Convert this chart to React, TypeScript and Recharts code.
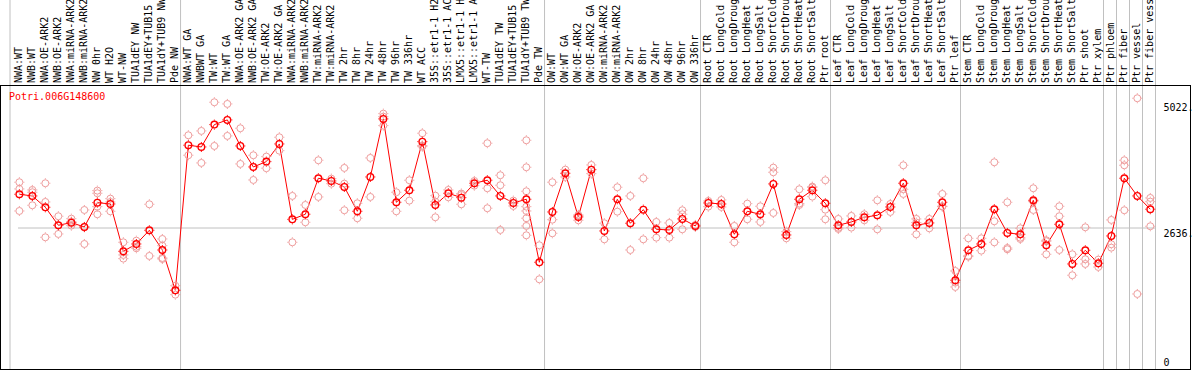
import {
  ComposedChart,
  Line,
  ReferenceLine,
  Scatter,
  XAxis,
  YAxis,
} from "recharts";

const title = "Potri.006G148600";

const categories = [
  "NWA:WT", "NWB:WT", "NWA:OE-ARK2", "NWB:OE-ARK2", "NWA:miRNA-ARK2", "NWB:miRNA-ARK2",
  "NW 0hr", "WT H2O", "WT-NW", "TUA1dEY NW", "TUA1dEY+TUB15 NW", "TUA1dY+TUB9 NW", "Pde NW",
  "NWA:WT GA", "NWBWT GA", "TW:WT", "TW:WT GA", "NWA:OE-ARK2 GA", "NWB:OE-ARK2 GA",
  "TW:OE-ARK2", "TW:OE-ARK2 GA", "NWA:miRNA-ARK2 GA", "NWB:miRNA-ARK2 GA", "TW:miRNA-ARK2",
  "TW:miRNA-ARK2 GA", "TW 2hr", "TW 8hr", "TW 24hr", "TW 48hr", "TW 96hr", "TW 336hr",
  "WT ACC", "35S::etr1-1 H2O", "35S::etr1-1 ACC", "LMX5::etr1-1 H2O", "LMX5::etr1-1 ACC",
  "WT-TW", "TUA1dEY TW", "TUA1dEY+TUB15 TW", "TUA1dY+TUB9 TW", "Pde TW",
  "OW:WT", "OW:WT GA", "OW:OE-ARK2", "OW:OE-ARK2 GA", "OW:miRNA-ARK2", "OW:miRNA-ARK2 GA",
  "OW 2hr", "OW 8hr", "OW 24hr", "OW 48hr", "OW 96hr", "OW 336hr",
  "Root CTR", "Root LongCold", "Root LongDrought", "Root LongHeat", "Root LongSalt",
  "Root ShortCold", "Root ShortDrought", "Root ShortHeat", "Root ShortSalt", "Ptr root",
  "Leaf CTR", "Leaf LongCold", "Leaf LongDrought", "Leaf LongHeat", "Leaf LongSalt",
  "Leaf ShortCold", "Leaf ShortDrought", "Leaf ShortHeat", "Leaf ShortSalt", "Ptr leaf",
  "Stem CTR", "Stem LongCold", "Stem LongDrought", "Stem LongHeat", "Stem LongSalt",
  "Stem ShortCold", "Stem ShortDrought", "Stem ShortHeat", "Stem ShortSalt", "Ptr shoot", "Ptr xylem",
  "Ptr phloem", "Ptr fiber", "Ptr vessel", "Ptr fiber vessel",
];

// number of conditions in each block separated by a grey line
const groupSizes = [13, 28, 12, 10, 10, 11, 1, 1, 1, 1];

const means = [
  3276, 3244, 3029, 2688, 2738, 2656, 3117, 3092, 2194, 2333, 2593, 2219, 1455,
  4206, 4173, 4597, 4686, 4192, 3794, 3895, 4230, 2800, 2897, 3580, 3528, 3415, 2953,
  3604, 4705, 3124, 3352, 4274, 3073, 3295, 3212, 3485, 3542, 3244, 3111, 3181, 1986,
  2940, 3674, 2846, 3743, 2580, 3181, 2726, 2984, 2612, 2599, 2808, 2675,
  3111, 3092, 2517, 2953, 2897, 3472, 2504, 3181, 3352, 3105,
  2688, 2751, 2840, 2878, 3035, 3485, 2688, 2732, 3124, 1645,
  2214, 2333, 2992, 2542, 2517, 3162, 2309, 2707, 1954, 2214, 1967,
  2485, 3580, 3244, 2992,
];

const replicates = [
  [3504, 3377, 2959], [3358, 3314, 3067], [3485, 3130, 2460], [2859, 2688, 2523],
  [2813, 2757, 2681], [2978, 2650, 2333], [3345, 3295, 3041, 2897], [3193, 3130, 2953],
  [2365, 2125, 2055], [2396, 2282, 2252], [3086, 2106], [2428, 2301, 2068, 2049],
  [1542, 1455, 1372],
  [4395, 4016], [4477, 3870], [5021, 4192], [4989, 4382], [4528, 3851], [4016, 3547],
  [3990, 3770], [4357, 4103], [3244, 2365], [3073, 2745], [3921, 3225], [3572, 3477],
  [3775, 3477, 2973], [3105, 2821], [3965, 3225], [4805, 4748, 4578], [3314, 2953],
  [3542, 3155], [4433, 4200, 4179], [3250, 3136, 2840], [3358, 3219], [3290, 3263, 3086],
  [3528, 3439], [4244, 3390, 3011], [3637, 3447, 2599], [3155, 3054],
  [4300, 3788, 3333, 3041, 2959, 2821, 2675, 2498], [2309, 1664],
  [3504, 2794, 2536], [3743, 3604], [2885, 2870, 2783], [3832, 3667], [2726, 2422],
  [3409, 2946], [3244, 2219], [3580, 2422], [2751, 2453], [2732, 2453],
  [2973, 2897, 2612], [2694, 2656],
  [3149, 3041], [3168, 3035], [2675, 2365], [3098, 2802], [3048, 2750],
  [3781, 3693, 2921], [2567, 2441], [3371, 3100, 3073], [3421, 3404, 3231], [3542, 2984, 2802],
  [2808, 2640, 2618], [2865, 2643], [2897, 2783], [3162, 2612], [3092, 2940],
  [3826, 3371, 3282], [2808, 2740, 2517], [2808, 2631], [3282, 3050, 3041], [1821, 1600, 1518],
  [2441, 2110, 2093], [2441, 2206], [3883, 2764, 2365], [3124, 2257, 2233], [2631, 2453, 2428],
  [3390, 3136, 2978], [2403, 2385, 2138], [3048, 2859, 2219], [2138, 1740], [2650, 2043, 1954],
  [2036, 1897],
  [2789, 2328, 2263], [3921, 3826, 2973], [5097, 1385], [3206, 3136, 2669],
];

const yTicks = [0, 2636, 5022];
const yTickLabels = ["0", "2636.", "5022."];

const X_MIN = -0.72;
const X_MAX = 87.4;
const Y_MAX = 5348;

const GRID = "#c0c0c0";
const RED = "#ff0000";
const PINK = "#ee9c9c";
const FONT = '"DejaVu Sans Mono", monospace';

const meanData = means.map((y, x) => ({ x, y }));
const repData = replicates.flatMap((vals, x) => vals.map((y) => ({ x, y })));

let acc = 0;
const groupLines = [X_MIN, ...groupSizes.map((s) => (acc += s) - 1 + 0.4)];

function marker(cx: number, cy: number, color: string, r: number, sw: number) {
  const a = r + sw / 2;
  return (
    <g>
      <circle cx={cx} cy={cy} r={r} fill="none" stroke={color} strokeWidth={sw} />
      <path
        d={`M${cx} ${cy - a - 1}v1M${cx} ${cy + a}v1M${cx - a - 1} ${cy}h1M${cx + a} ${cy}h1`}
        stroke={color}
        strokeWidth={1}
      />
    </g>
  );
}

const RepShape = (p: any) => marker(p.cx, p.cy, PINK, 3.5, 1);

const MeanDot = (p: any) => <g key={`m${p.index}`}>{marker(p.cx, p.cy, RED, 3.3, 1.4)}</g>;

const CategoryTick = (p: any) => {
  const x = p.x + 3;
  const y = p.y;
  return (
    <text
      x={x}
      y={y}
      transform={`rotate(-90, ${x}, ${y})`}
      textAnchor="start"
      fontSize={10}
      fontFamily={FONT}
      fill="#000"
    >
      {categories[p.payload.value]}
    </text>
  );
};

const ValueTick = (p: any) => {
  const i = yTicks.indexOf(p.payload.value);
  return (
    <text x={p.x} y={Math.min(p.y + 9, 366)} textAnchor="start" fontSize={10} fontFamily={FONT} fill="#000">
      {yTickLabels[i]}
    </text>
  );
};

export default function App() {
  return (
    <div style={{ position: "absolute", left: 0, top: 0, width: 1194, height: 370, background: "#fff" }}>
      <ComposedChart width={1194} height={370} margin={{ top: 0, right: 0, bottom: 3, left: 10 }}>
        <XAxis
          type="number"
          dataKey="x"
          orientation="top"
          height={85}
          domain={[X_MIN, X_MAX]}
          ticks={categories.map((_, i) => i)}
          interval={0}
          axisLine={false}
          tickLine={false}
          tickSize={0}
          tickMargin={2}
          tick={<CategoryTick />}
        />
        <YAxis
          type="number"
          orientation="right"
          width={38.5}
          domain={[0, Y_MAX]}
          ticks={yTicks}
          interval={0}
          axisLine={false}
          tickLine={false}
          tickSize={0}
          tickMargin={8}
          tick={<ValueTick />}
        />
        {groupLines.map((g) => (
          <ReferenceLine
            key={g}
            x={g}
            ifOverflow="visible"
            shape={(p: any) => <line x1={p.x1} x2={p.x2} y1={0} y2={p.y2 + 2} stroke={GRID} strokeWidth={1} />}
          />
        ))}
        <ReferenceLine
          y={2636}
          shape={(p: any) => <line x1={p.x1} x2={p.x2 + 8} y1={p.y1} y2={p.y2} stroke={GRID} strokeWidth={1} />}
        />
        <Scatter data={repData} dataKey="y" shape={RepShape} isAnimationActive={false} />
        <Line
          data={meanData}
          dataKey="y"
          type="linear"
          stroke={RED}
          strokeWidth={1}
          dot={MeanDot}
          activeDot={false}
          isAnimationActive={false}
        />
      </ComposedChart>
      <div
        style={{
          position: "absolute",
          left: 0,
          top: 85,
          width: 1191,
          height: 285,
          boxSizing: "border-box",
          border: "1px solid #000",
          pointerEvents: "none",
        }}
      />
      <div
        style={{
          position: "absolute",
          left: 9,
          top: 91,
          fontFamily: FONT,
          fontSize: 10,
          lineHeight: "12px",
          color: RED,
        }}
      >
        {title}
      </div>
    </div>
  );
}
